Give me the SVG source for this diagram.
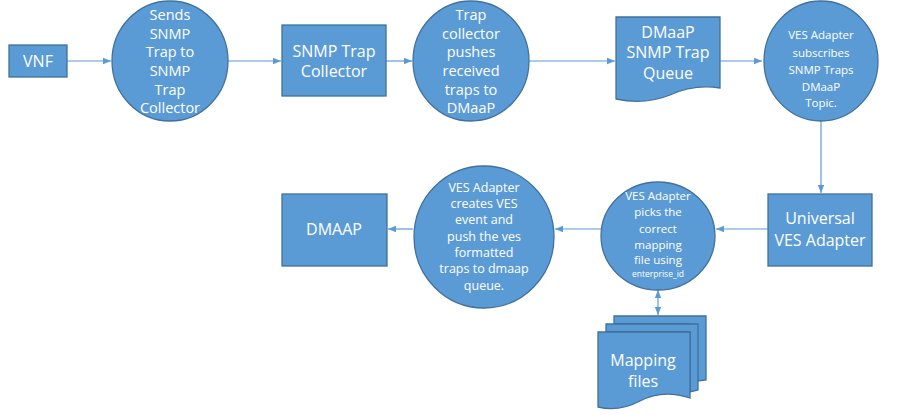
<svg xmlns="http://www.w3.org/2000/svg" width="909" height="415" viewBox="0 0 909 415">
<style>
.s{fill:#5B9BD5;stroke:#41719C;stroke-width:1.3}
.t{fill:#fff;font-family:"Open Sans","Liberation Sans",sans-serif;text-anchor:middle}
.c{stroke:#5B9BD5;stroke-width:1.2;fill:none}
</style>
<defs>
<marker id="a" viewBox="0 0 10 10" refX="10" refY="5" markerWidth="7" markerHeight="7" orient="auto-start-reverse"><path d="M0,1 L10,5 L0,9 Z" fill="#5B9BD5"/></marker>
</defs>
<rect width="909" height="415" fill="#fff"/>
<g id="connectors">
<line class="c" x1="67" y1="61" x2="111" y2="61" marker-end="url(#a)"/>
<line class="c" x1="228" y1="61" x2="281" y2="61" marker-end="url(#a)"/>
<line class="c" x1="386" y1="61" x2="412" y2="61" marker-end="url(#a)"/>
<line class="c" x1="529" y1="61" x2="615" y2="61" marker-end="url(#a)"/>
<line class="c" x1="720" y1="61" x2="762" y2="61" marker-end="url(#a)"/>
<line class="c" x1="821" y1="121" x2="821" y2="193" marker-end="url(#a)"/>
<line class="c" x1="768" y1="229" x2="716" y2="229" marker-end="url(#a)"/>
<line class="c" x1="601" y1="229" x2="555" y2="229" marker-end="url(#a)"/>
<line class="c" x1="413" y1="229" x2="388" y2="229" marker-end="url(#a)"/>
<line class="c" x1="658" y1="290" x2="658" y2="315" marker-start="url(#a)" marker-end="url(#a)"/>
</g>
<g id="vnf"><rect class="s" x="9" y="45" width="58" height="32"/><text class="t" x="38" y="67" font-size="16">VNF</text></g>
<g id="sends"><ellipse class="s" cx="170" cy="61" rx="58" ry="60"/>
<text class="t" font-size="14.5"><tspan x="170" y="20">Sends</tspan><tspan x="170" y="39">SNMP</tspan><tspan x="170" y="57">Trap to</tspan><tspan x="170" y="76">SNMP</tspan><tspan x="170" y="95">Trap</tspan><tspan x="170" y="113">Collector</tspan></text></g>
<g id="collector"><rect class="s" x="282" y="25" width="104" height="71"/><text class="t" font-size="16"><tspan x="334" y="57">SNMP Trap</tspan><tspan x="334" y="77">Collector</tspan></text></g>
<g id="pushes"><ellipse class="s" cx="471" cy="61" rx="58" ry="60"/>
<text class="t" font-size="14.5"><tspan x="471" y="20">Trap</tspan><tspan x="471" y="39">collector</tspan><tspan x="471" y="57">pushes</tspan><tspan x="471" y="76">received</tspan><tspan x="471" y="95">traps to</tspan><tspan x="471" y="113">DMaaP</tspan></text></g>
<g id="queue"><path class="s" d="M616,17 H720 V88 C700,85 685,88 670,95 C650,103 630,102 616,99 Z"/>
<text class="t" font-size="16"><tspan x="668" y="38">DMaaP</tspan><tspan x="668" y="58">SNMP Trap</tspan><tspan x="668" y="79">Queue</tspan></text></g>
<g id="subscribes"><ellipse class="s" cx="821" cy="61" rx="57" ry="60"/>
<text class="t" font-size="11.5"><tspan x="821" y="39">VES Adapter</tspan><tspan x="821" y="57">subscribes</tspan><tspan x="821" y="74">SNMP Traps</tspan><tspan x="821" y="91">DMaaP</tspan><tspan x="821" y="107">Topic.</tspan></text></g>
<g id="universal"><rect class="s" x="768" y="194" width="104" height="72"/><text class="t" font-size="16"><tspan x="820" y="224">Universal</tspan><tspan x="820" y="246">VES Adapter</tspan></text></g>
<g id="picks"><ellipse class="s" cx="658" cy="236" rx="57" ry="54"/>
<text class="t" font-size="11.5"><tspan x="658" y="200">VES Adapter</tspan><tspan x="658" y="216">picks the</tspan><tspan x="658" y="233">correct</tspan><tspan x="658" y="249">mapping</tspan><tspan x="658" y="264">file using</tspan><tspan x="658" y="277" font-size="8.5">enterprise_id</tspan></text></g>
<g id="creates"><ellipse class="s" cx="484" cy="237" rx="70" ry="71"/>
<text class="t" font-size="12.5"><tspan x="484" y="192">VES Adapter</tspan><tspan x="484" y="208">creates VES</tspan><tspan x="484" y="224">event and</tspan><tspan x="484" y="241">push the ves</tspan><tspan x="484" y="257">formatted</tspan><tspan x="484" y="273">traps to dmaap</tspan><tspan x="484" y="290">queue.</tspan></text></g>
<g id="dmaap"><rect class="s" x="282" y="194" width="105" height="72"/><text class="t" x="334" y="235" font-size="16">DMAAP</text></g>
<g id="mapping">
<path class="s" d="M614,316 H706 V380 L690,382 V324 H614 Z"/>
<path class="s" d="M606,324 H698 V390 L690,392 V332 H606 Z"/>
<path class="s" d="M598,332 H690 V398 C672,392 655,393 640,401 C625,409 610,410 598,407 Z"/>
<text class="t" font-size="16"><tspan x="643" y="366">Mapping</tspan><tspan x="643" y="387">files</tspan></text></g>
</svg>
